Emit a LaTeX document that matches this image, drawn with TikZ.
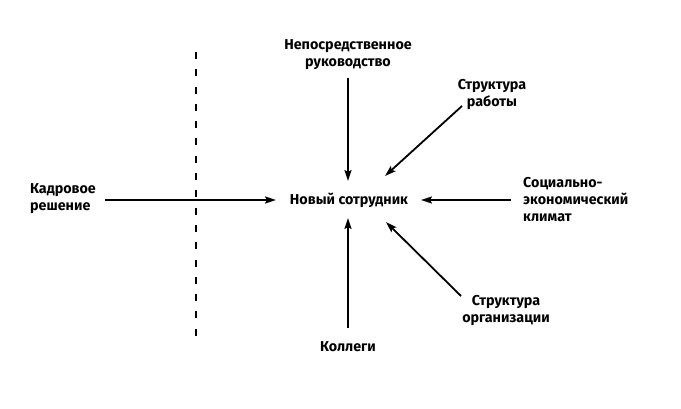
\documentclass[tikz,border=0pt]{standalone}
\usepackage{fontspec}
\setmainfont{Fira Sans}
\usetikzlibrary{arrows.meta}
\begin{document}
\begin{tikzpicture}[x=1pt,y=-1pt,
  lbl/.style={font=\fontsize{14.3}{17}\selectfont\bfseries, inner sep=0pt},
  arr/.style={line width=1.8pt, -{Stealth[length=11pt,width=7pt,inset=2pt]}},
  sep/.style={line width=2.6pt, dash pattern=on 7pt off 10.3pt}]
\useasboundingbox (0,0) rectangle (681,409);
\node[lbl, align=center] (top) at (348,55) {Непосредственное\\руководство};
\node[lbl] (center) at (349,200) {Новый сотрудник};
\node[lbl, align=left, anchor=west] (left) at (30,199) {Кадровое\\решение};
\node[lbl, align=left, anchor=west] (right) at (523,200) {Социально-\\экономический\\климат};
\node[lbl, align=center] (sr) at (492,95) {Структура\\работы};
\node[lbl, align=center] (so) at (506,311) {Структура\\организации};
\node[lbl] (kol) at (348,347) {Коллеги};
\coordinate (tS) at (348,78);  \coordinate (tE) at (348,181);
\coordinate (bS) at (348,328); \coordinate (bE) at (348,218);
\coordinate (lS) at (105,200); \coordinate (lE) at (276,200);
\coordinate (rS) at (511,200); \coordinate (rE) at (421,200);
\coordinate (srS) at (462,106); \coordinate (srE) at (385,176);
\coordinate (soS) at (461,296); \coordinate (soE) at (386,222);
\draw[arr] (tS) -- (tE);
\draw[arr] (bS) -- (bE);
\draw[arr] (lS) -- (lE);
\draw[arr] (rS) -- (rE);
\draw[arr] (srS) -- (srE);
\draw[arr] (soS) -- (soE);
\coordinate (dA) at (196,52); \coordinate (dB) at (196,346);
\draw[sep] (dA) -- (dB);
\end{tikzpicture}
\end{document}
